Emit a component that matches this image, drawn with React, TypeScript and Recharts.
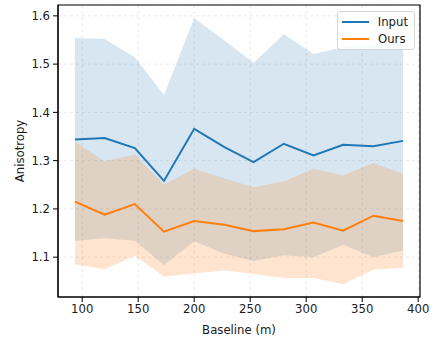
import React from 'react';
import { ComposedChart, Area, Line, XAxis, YAxis, CartesianGrid, ReferenceArea } from 'recharts';

const baselines = [93.5, 120, 147, 173, 200, 227, 253, 280, 306.5, 333, 360, 386.5];
const inputMean = [1.344, 1.347, 1.326, 1.258, 1.366, 1.328, 1.297, 1.335, 1.311, 1.333, 1.33, 1.341];
const inputUpper = [1.554, 1.552, 1.514, 1.436, 1.595, 1.549, 1.503, 1.562, 1.521, 1.535, 1.54, 1.55];
const inputLower = [1.134, 1.139, 1.134, 1.084, 1.133, 1.107, 1.092, 1.104, 1.1, 1.126, 1.1, 1.114];
const oursMean = [1.215, 1.188, 1.21, 1.153, 1.175, 1.167, 1.154, 1.158, 1.172, 1.155, 1.186, 1.175];
const oursUpper = [1.339, 1.299, 1.313, 1.25, 1.283, 1.263, 1.245, 1.257, 1.283, 1.269, 1.295, 1.273];
const oursLower = [1.085, 1.075, 1.103, 1.06, 1.066, 1.073, 1.065, 1.057, 1.057, 1.044, 1.074, 1.078];

const xTicks = [100, 150, 200, 250, 300, 350, 400];
const yTicks = [1.1, 1.2, 1.3, 1.4, 1.5, 1.6];
const xDomain = [78.4, 401.6];
const yDomain = [1.0175, 1.6225];

const BLUE = '#1f77b4';
const ORANGE = '#ff7f0e';
const FONT = 'DejaVu Sans';
const TEXT = '#1a1a1a';

const data = baselines.map((x, i) => ({
  x,
  inputMean: inputMean[i],
  inputBand: [inputLower[i], inputUpper[i]],
  oursMean: oursMean[i],
  oursBand: [oursLower[i], oursUpper[i]],
}));

const legendItems = [
  { name: 'Input', color: BLUE },
  { name: 'Ours', color: ORANGE },
];

const LegendBox = () => (
  <div
    style={{
      position: 'absolute',
      left: 337,
      top: 11,
      background: 'rgba(255,255,255,0.85)',
      border: '1px solid #d6d6d6',
      borderRadius: 3,
      padding: '2px 6px 2px 4px',
      fontFamily: FONT,
      fontSize: 11.7,
      color: TEXT,
      lineHeight: '16.5px',
      width: 66,
      boxSizing: 'content-box',
    }}
  >
    {legendItems.map((it) => (
      <div key={it.name} style={{ display: 'flex', alignItems: 'center' }}>
        <span style={{ display: 'inline-block', width: 27, height: 2, background: it.color, marginRight: 9 }} />
        <span>{it.name}</span>
      </div>
    ))}
  </div>
);

const tickStyle = { fontFamily: FONT, fontSize: 11.7, fill: TEXT };

export default function App() {
  return (
    <div style={{ position: 'absolute', left: 0, top: 0, width: 433, height: 338, background: '#fff' }}>
      <ComposedChart width={433} height={338} data={data} margin={{ top: 5, right: 13, left: 0, bottom: 0 }}>
        <CartesianGrid stroke="#b0b0b0" strokeOpacity={0.28} strokeDasharray="3 3" />
        <XAxis
          dataKey="x"
          type="number"
          domain={xDomain}
          ticks={xTicks}
          allowDataOverflow
          height={41}
          tickSize={5}
          tickMargin={3}
          stroke="#000"
          tick={tickStyle}
          label={{ value: 'Baseline (m)', position: 'insideBottom', offset: 4, style: { fontFamily: FONT, fontSize: 11.7, fill: TEXT } }}
        />
        <YAxis
          type="number"
          domain={yDomain}
          ticks={yTicks}
          allowDataOverflow
          width={58}
          tickSize={5}
          tickMargin={3}
          stroke="#000"
          tick={tickStyle}
          tickFormatter={(v: number) => v.toFixed(1)}
          label={{ value: 'Anisotropy', angle: -90, position: 'insideLeft', offset: 20, style: { fontFamily: FONT, fontSize: 11.7, fill: TEXT, textAnchor: 'middle' } }}
        />
        <Area dataKey="inputBand" type="linear" stroke="none" fill={BLUE} fillOpacity={0.18} isAnimationActive={false} />
        <Area dataKey="oursBand" type="linear" stroke="none" fill={ORANGE} fillOpacity={0.2} isAnimationActive={false} />
        <Line dataKey="inputMean" type="linear" stroke={BLUE} strokeWidth={2} dot={false} isAnimationActive={false} />
        <Line dataKey="oursMean" type="linear" stroke={ORANGE} strokeWidth={2} dot={false} isAnimationActive={false} />
        <ReferenceArea x1={xDomain[0]} x2={xDomain[1]} y1={yDomain[0]} y2={yDomain[1]} fill="none" stroke="#000" strokeWidth={1.2} ifOverflow="visible" />
      </ComposedChart>
      <LegendBox />
    </div>
  );
}
